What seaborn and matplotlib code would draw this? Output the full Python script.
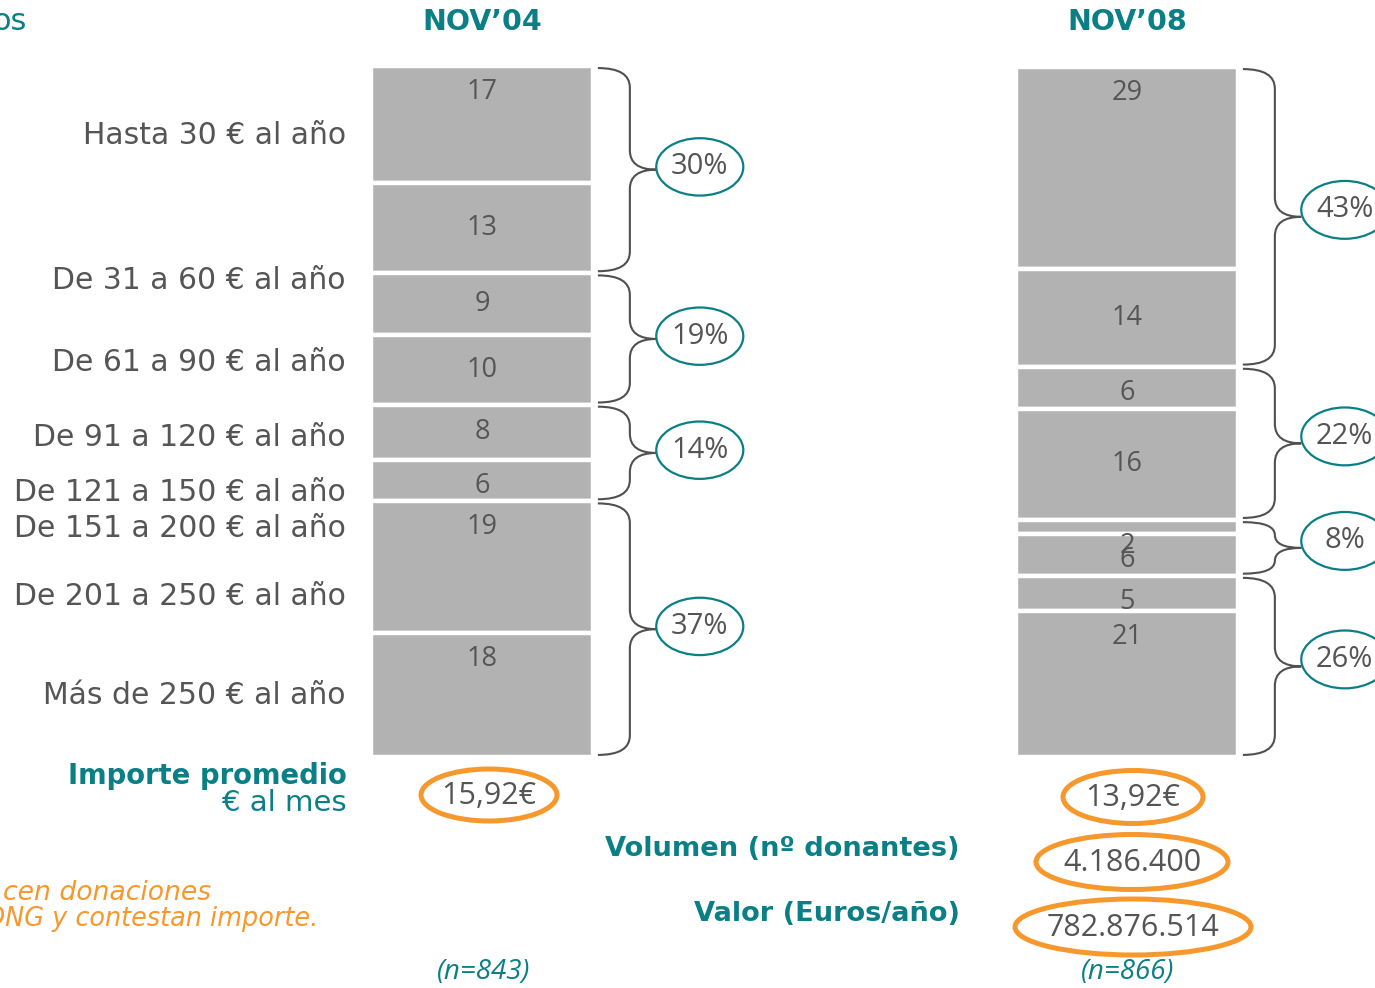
import matplotlib
matplotlib.use("Agg")
import matplotlib.pyplot as plt
import matplotlib.transforms as mtransforms
from matplotlib.path import Path
from matplotlib.patches import PathPatch, Ellipse
import seaborn as sns

sns.set_theme(style="white")
plt.rcParams['font.family'] = ['DejaVu Sans']

# ---------------- data ----------------
periods = ["NOV’04", "NOV’08"]
seg_04 = [17, 13, 9, 10, 8, 6, 19, 18]
seg_08 = [29, 14, 6, 16, 2, 6, 5, 21]
groups_04 = [2, 2, 2, 2]          # segments per brace
groups_08 = [2, 2, 2, 2]
range_labels = ["Hasta 30 € al año", "De 31 a 60 € al año", "De 61 a 90 € al año",
                "De 91 a 120 € al año", "De 121 a 150 € al año", "De 151 a 200 € al año",
                "De 201 a 250 € al año", "Más de 250 € al año"]
avg_month = ["15,92€", "13,92€"]
volumen = "4.186.400"
valor = "782.876.514"
sample_n = ["(n=843)", "(n=866)"]

# ---------------- style ----------------
TEAL = "#0B7F86"
GRAY_TXT = "#555555"
BAR = "#B2B2B2"
ORANGE = "#F7982C"
NUMFONT = ["Open Sans", "DejaVu Sans"]

W, H = 1375, 988
fig = plt.figure(figsize=(W / 100, H / 100), dpi=100)
bg = fig.add_axes([0, 0, 1, 1])
bg.set_xlim(0, W)
bg.set_ylim(H, 0)
bg.axis("off")

def add_px_axes(x0, x1, y0, y1):
    return fig.add_axes([x0 / W, 1 - y1 / H, (x1 - x0) / W, (y1 - y0) / H])

ax04 = add_px_axes(371, 593, 66, 757)
ax08 = add_px_axes(1016, 1238, 67, 757)


def draw_bar(ax, name, segs, groups, ell_shift):
    total = sum(segs)
    cum = 0
    for v in segs:
        sns.barplot(x=[name], y=[v], bottom=[cum], ax=ax, color=BAR, width=1.0,
                    edgecolor="white", linewidth=3.2, saturation=1)
        cum += v
    ax.set_xlim(-0.5, 0.5)
    ax.set_ylim(total, 0)
    ax.axis("off")
    for p in ax.patches:
        p.set_clip_on(False)
    # value labels
    top = 0
    for v in segs:
        if v >= 17:
            yl = top + 3.75
        else:
            yl = max(top + v / 2, top + 3.75)
        ax.text(0, yl, str(v), ha="center", va="center", fontsize=19.5,
                color=GRAY_TXT, family=NUMFONT)
        top += v
    # braces
    trans = mtransforms.blended_transform_factory(ax.transAxes, ax.transData)
    x0, xv, xt = 1.022, 1.166, 1.285
    start = 0
    idx = 0
    for g in groups:
        part = segs[idx:idx + g]
        y0 = start + 0.3
        y1 = start + sum(part) - 0.3
        ym = (y0 + y1) / 2
        r = min(2.8, (y1 - y0) / 4)
        verts = [(x0, y0), (xv, y0), (xv, y0 + r), (xv, ym - r), (xv, ym), (xt, ym),
                 (xv, ym), (xv, ym + r), (xv, y1 - r), (xv, y1), (x0, y1)]
        codes = [Path.MOVETO, Path.CURVE3, Path.CURVE3, Path.LINETO, Path.CURVE3,
                 Path.CURVE3, Path.CURVE3, Path.CURVE3, Path.LINETO, Path.CURVE3, Path.CURVE3]
        ax.add_patch(PathPatch(Path(verts, codes), fill=False, edgecolor="#505050",
                               lw=1.5, transform=trans, clip_on=False))
        ye = ym + ell_shift
        ax.add_patch(Ellipse((xt + 0.196, ye), 0.392, 8.3, transform=trans,
                             facecolor="white", edgecolor=TEAL, lw=1.6, clip_on=False))
        ax.text(xt + 0.196, ye, f"{sum(part)}%", ha="center", va="center",
                fontsize=21, color=GRAY_TXT, family=NUMFONT, transform=trans,
                clip_on=False)
        start += sum(part)
        idx += g


draw_bar(ax04, periods[0], seg_04, groups_04, -0.4)
draw_bar(ax08, periods[1], seg_08, groups_08, -1.0)

# headers
bg.text(482, 22, periods[0], ha="center", va="center", fontsize=20.5,
        fontweight="bold", color=TEAL)
bg.text(1127, 22, periods[1], ha="center", va="center", fontsize=20.5,
        fontweight="bold", color=TEAL)
bg.text(27, 22, "os", ha="right", va="center", fontsize=22, color=TEAL)

# left range labels
label_y = [135, 280, 362, 437, 492, 528, 596, 695]
for lab, y in zip(range_labels, label_y):
    bg.text(346, y, lab, ha="right", va="center", fontsize=21.5, color=GRAY_TXT)

# importe promedio
bg.text(347, 776, "Importe promedio", ha="right", va="center", fontsize=19.8,
        fontweight="bold", color=TEAL)
bg.text(347, 803, "€ al mes", ha="right", va="center", fontsize=21, color=TEAL)

def orange_value(cx, cy, w, h, txt):
    bg.add_patch(Ellipse((cx, cy), w, h, facecolor="none", edgecolor=ORANGE, lw=3.6))
    bg.text(cx, cy + 1, txt, ha="center", va="center", fontsize=22,
            color=GRAY_TXT, family=NUMFONT)

orange_value(489, 795, 136, 52, avg_month[0])
orange_value(1133, 797, 140, 53, avg_month[1])
orange_value(1132, 862, 192, 55, volumen)
orange_value(1133, 927, 236, 56, valor)

bg.text(960, 849, "Volumen (nº donantes)", ha="right", va="center", fontsize=19.6,
        fontweight="bold", color=TEAL)
bg.text(960, 914, "Valor (Euros/año)", ha="right", va="center", fontsize=19.6,
        fontweight="bold", color=TEAL)

bg.text(484, 972, sample_n[0], ha="center", va="center", fontsize=20,
        style="italic", color=TEAL, family=NUMFONT)
bg.text(1128, 972, sample_n[1], ha="center", va="center", fontsize=20,
        style="italic", color=TEAL, family=NUMFONT)

# footnote (clipped at left edge, as in the source slide)
bg.text(211, 893, "cen donaciones", ha="right", va="center", fontsize=19.2,
        style="italic", color=ORANGE)
bg.text(318, 919, "ONG y contestan importe.", ha="right", va="center", fontsize=18.4,
        style="italic", color=ORANGE)

fig.savefig("out.png", dpi=100)
